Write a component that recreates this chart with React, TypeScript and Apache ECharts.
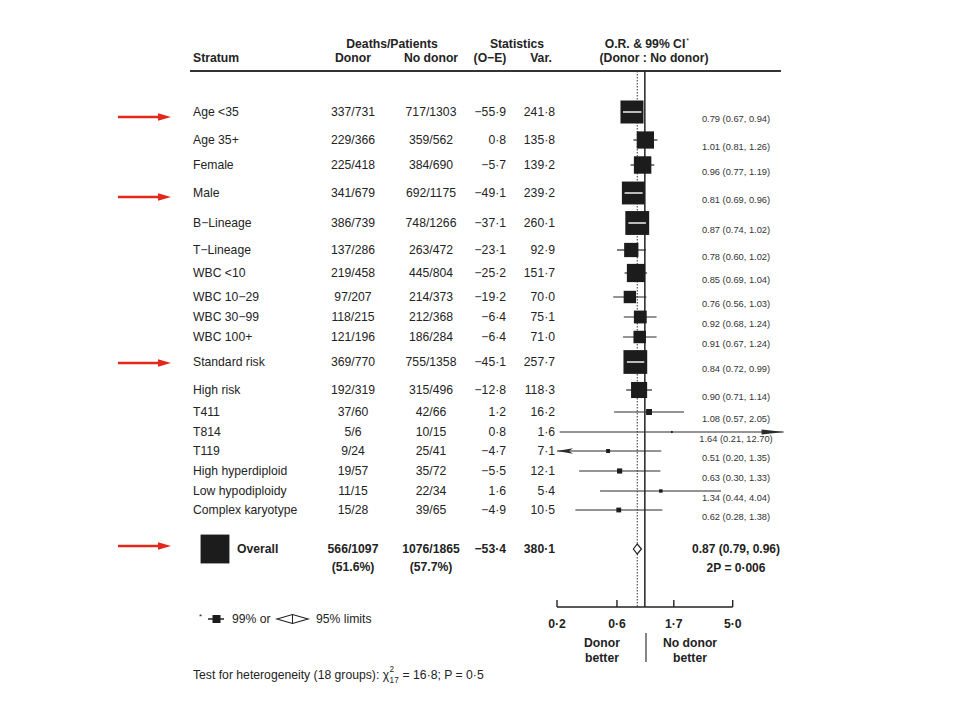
import { useEffect, useRef } from "react";
import * as echarts from "echarts";

// ---------------- data ----------------
const strata = [
  "Age <35", "Age 35+", "Female", "Male", "B\u2212Lineage", "T\u2212Lineage",
  "WBC <10", "WBC 10\u221229", "WBC 30\u221299", "WBC 100+", "Standard risk", "High risk",
  "T411", "T814", "T119", "High hyperdiploid", "Low hypodiploidy", "Complex karyotype",
];
const donorDeaths = ["337/731", "229/366", "225/418", "341/679", "386/739", "137/286", "219/458", "97/207", "118/215", "121/196", "369/770", "192/319", "37/60", "5/6", "9/24", "19/57", "11/15", "15/28"];
const noDonorDeaths = ["717/1303", "359/562", "384/690", "692/1175", "748/1266", "263/472", "445/804", "214/373", "212/368", "186/284", "755/1358", "315/496", "42/66", "10/15", "25/41", "35/72", "22/34", "39/65"];
const oMinusE = [-55.9, 0.8, -5.7, -49.1, -37.1, -23.1, -25.2, -19.2, -6.4, -6.4, -45.1, -12.8, 1.2, 0.8, -4.7, -5.5, 1.6, -4.9];
const variance = [241.8, 135.8, 139.2, 239.2, 260.1, 92.9, 151.7, 70.0, 75.1, 71.0, 257.7, 118.3, 16.2, 1.6, 7.1, 12.1, 5.4, 10.5];
const oddsRatio = [0.79, 1.01, 0.96, 0.81, 0.87, 0.78, 0.85, 0.76, 0.92, 0.91, 0.84, 0.90, 1.08, 1.64, 0.51, 0.63, 1.34, 0.62];
const ciLow = [0.67, 0.81, 0.77, 0.69, 0.74, 0.60, 0.69, 0.56, 0.68, 0.67, 0.72, 0.71, 0.57, 0.21, 0.20, 0.30, 0.44, 0.28];
const ciHigh = [0.94, 1.26, 1.19, 0.96, 1.02, 1.02, 1.04, 1.03, 1.24, 1.24, 0.99, 1.14, 2.05, 12.70, 1.35, 1.33, 4.04, 1.38];

const overallDonor = ["566/1097", "(51.6%)"];
const overallNoDonor = ["1076/1865", "(57.7%)"];
const overallOE = -53.4;
const overallVar = 380.1;
const overallOR = 0.87;
const overallCI99 = [0.79, 0.96];
const overallCI95 = [0.81, 0.94];
const overallP = "2P = 0\u00b7006";

const tickValues = [0.2, 0.6, 1.7, 5.0];
const tickLabels = ["0\u00b72", "0\u00b76", "1\u00b77", "5\u00b70"];
const axisRange = [0.2, 5.0];

// ---------------- layout ----------------
// vertical slot of each row, in y-axis units (grid spans 0..536)
const rowSlot = [41, 69, 94, 122, 152, 179, 202, 226, 246, 266, 291, 319, 341, 361, 380, 400, 420, 439];
const overallSlot = 478;
const Y_MAX = 536;

const FONT = "'Liberation Sans', Arial, Helvetica, sans-serif";
const INK = "#232323";
const RED = "#e2281b";
const FS = 12.2;

const COL = { stratum: 193, donor: 353, noDonor: 431, oe: 506, vr: 555, orText: 736 };

const fmt = (v: number) => (v < 0 ? "\u2212" : "") + Math.abs(v).toFixed(1).replace(".", "\u00b7");
const fmtCI = (o: number, l: number, h: number) => `${o.toFixed(2)} (${l.toFixed(2)}, ${h.toFixed(2)})`;

function measure(text: string, size: number, weight = "normal") {
  const c = document.createElement("canvas").getContext("2d");
  if (!c) return text.length * size * 0.55;
  c.font = `${weight} ${size}px ${FONT}`;
  return c.measureText(text).width;
}

function txt(text: string, x: number, y: number, align: string, size = FS, weight = "normal", fill = INK): any {
  return {
    type: "text",
    x,
    y,
    silent: true,
    style: {
      text,
      fill,
      fontSize: size,
      fontFamily: FONT,
      fontWeight: weight,
      textAlign: align,
      align,
      textVerticalAlign: "middle",
      verticalAlign: "middle",
    },
  };
}

const sqSize = (v: number) => 1.48 * Math.sqrt(v);

export default function App() {
  const ref = useRef<HTMLDivElement>(null);

  useEffect(() => {
    if (!ref.current) return;
    const chart = echarts.init(ref.current, undefined, { renderer: "svg" });

    const tableSeries = {
      type: "custom",
      clip: false,
      silent: true,
      data: strata.map((_, i) => [0, rowSlot[i]]),
      renderItem: (params: any, api: any) => {
        const i = params.dataIndex;
        const y = api.coord([0, api.value(1)])[1];
        return {
          type: "group",
          children: [
            txt(strata[i], COL.stratum, y, "left"),
            txt(donorDeaths[i], COL.donor, y, "center"),
            txt(noDonorDeaths[i], COL.noDonor, y, "center"),
            txt(fmt(oMinusE[i]), COL.oe, y, "right"),
            txt(fmt(variance[i]), COL.vr, y, "right"),
            txt(fmtCI(oddsRatio[i], ciLow[i], ciHigh[i]), COL.orText, y + 6.5, "center", 9.3, "normal", "#333"),
          ],
        };
      },
    };

    const forestSeries = {
      type: "custom",
      clip: false,
      silent: true,
      data: strata.map((_, i) => [Math.log(oddsRatio[i]), rowSlot[i], Math.log(ciLow[i]), Math.log(ciHigh[i]), variance[i]]),
      renderItem: (params: any, api: any) => {
        const i = params.dataIndex;
        const [xc, y] = api.coord([api.value(0), api.value(1)]);
        const xl = api.coord([api.value(2), 0])[0];
        const xh = api.coord([api.value(3), 0])[0];
        const s = sqSize(api.value(4));
        const children: any[] = [
          { type: "line", shape: { x1: xl, y1: y, x2: xh, y2: y }, style: { stroke: "#2b2b2b", lineWidth: 1.2 } },
        ];
        if (ciHigh[i] > axisRange[1]) {
          children.push({ type: "polygon", shape: { points: [[xh, y], [xh - 22, y - 2.6], [xh - 22, y + 2.6]] }, style: { fill: "#2b2b2b" } });
        }
        if (ciLow[i] <= axisRange[0]) {
          children.push({ type: "polygon", shape: { points: [[xl, y], [xl + 16, y - 2.8], [xl + 12, y], [xl + 16, y + 2.8]] }, style: { fill: "#2b2b2b" } });
        }
        children.push({ type: "rect", shape: { x: xc - s / 2, y: y - s / 2, width: s, height: s }, style: { fill: "#1c1c1c" } });
        if (xl >= xc - s / 2 && xh <= xc + s / 2) {
          children.push({ type: "line", shape: { x1: xl, y1: y, x2: xh, y2: y }, style: { stroke: "#ffffff", lineWidth: 1.4 } });
        }
        return { type: "group", children };
      },
    };

    const refSeries = {
      type: "custom",
      clip: false,
      silent: true,
      data: [[0, 0]],
      renderItem: (_p: any, api: any) => {
        const [x1, yTop] = api.coord([0, 0]);
        const yBot = api.coord([0, Y_MAX])[1];
        const xo = api.coord([Math.log(overallOR), 0])[0];
        return {
          type: "group",
          children: [
            { type: "line", shape: { x1: xo, y1: yTop, x2: xo, y2: yBot }, style: { stroke: "#333", lineWidth: 1, lineDash: [1.5, 1.5] } },
            { type: "line", shape: { x1, y1: yTop, x2: x1, y2: yBot }, style: { stroke: "#222", lineWidth: 1.5 } },
          ],
        };
      },
    };

    const overallSeries = {
      type: "custom",
      clip: false,
      silent: true,
      data: [[Math.log(overallOR), overallSlot, Math.log(overallCI95[0]), Math.log(overallCI95[1])]],
      renderItem: (_p: any, api: any) => {
        const [xc, y] = api.coord([api.value(0), api.value(1)]);
        const xl = api.coord([api.value(2), 0])[0];
        const xh = api.coord([api.value(3), 0])[0];
        const s = sqSize(overallVar);
        return {
          type: "group",
          children: [
            { type: "polygon", shape: { points: [[xl, y], [xc, y - 5], [xh, y], [xc, y + 5]] }, style: { fill: "#fff", stroke: "#222", lineWidth: 1.2 } },
            { type: "rect", shape: { x: 215 - s / 2, y: y - s / 2, width: s, height: s }, style: { fill: "#1c1c1c" } },
            txt("Overall", 237, y, "left", FS, "bold"),
            txt(overallDonor[0], COL.donor, y, "center", FS, "bold"),
            txt(overallDonor[1], COL.donor, y + 18, "center", FS, "bold"),
            txt(overallNoDonor[0], COL.noDonor, y, "center", FS, "bold"),
            txt(overallNoDonor[1], COL.noDonor, y + 18, "center", FS, "bold"),
            txt(fmt(overallOE), COL.oe, y, "right", FS, "bold"),
            txt(fmt(overallVar), COL.vr, y, "right", FS, "bold"),
            txt(fmtCI(overallOR, overallCI99[0], overallCI99[1]), COL.orText, y, "center", 12, "bold"),
            txt(overallP, COL.orText, y + 19, "center", 12, "bold"),
          ],
        };
      },
    };

    const axisSeries = {
      type: "custom",
      clip: false,
      silent: true,
      data: tickValues.map((v) => [Math.log(v), Y_MAX]),
      renderItem: (params: any, api: any) => {
        const i = params.dataIndex;
        const [x, y] = api.coord([api.value(0), api.value(1)]);
        const children: any[] = [
          { type: "line", shape: { x1: x, y1: y - 7, x2: x, y2: y }, style: { stroke: "#222", lineWidth: 1.4 } },
          txt(tickLabels[i], x, y + 17, "center", FS, "bold"),
        ];
        if (i === 0) {
          const xe = api.coord([Math.log(axisRange[1]), Y_MAX])[0];
          const xs = api.coord([Math.log(axisRange[0]), Y_MAX])[0];
          children.push({ type: "line", shape: { x1: xs, y1: y, x2: xe, y2: y }, style: { stroke: "#222", lineWidth: 1.4 } });
        }
        return { type: "group", children };
      },
    };

    // header & footnotes
    const orHead = "O.R. & 99% CI";
    const orW = measure(orHead, FS, "bold");
    const orX = 647 - orW / 2 - 2;

    const chiA = "Test for heterogeneity (18 groups): \u03c7";
    const chiAW = measure(chiA, FS);
    const chiSubW = measure("17", 8.2);
    const chiX = 193;

    const redArrow = (y: number) => [
      { type: "line", shape: { x1: 118, y1: y, x2: 162, y2: y }, style: { stroke: RED, lineWidth: 2.4 } },
      { type: "polygon", shape: { points: [[158, y - 3.8], [171, y], [158, y + 3.8]] }, style: { fill: RED } },
    ];

    const graphics: any[] = [
      txt("Stratum", 193, 58, "left", FS, "bold"),
      txt("Deaths/Patients", 392, 44, "center", FS, "bold"),
      txt("Donor", COL.donor, 58, "center", FS, "bold"),
      txt("No donor", COL.noDonor, 58, "center", FS, "bold"),
      txt("Statistics", 517, 44, "center", FS, "bold"),
      txt("(O\u2212E)", 490, 58, "center", FS, "bold"),
      txt("Var.", 541, 58, "center", FS, "bold"),
      txt(orHead, orX, 44, "left", FS, "bold"),
      txt("*", orX + orW + 1, 40, "left", 7, "normal"),
      txt("(Donor : No donor)", 654, 58, "center", FS, "bold"),
      { type: "line", shape: { x1: 190, y1: 71, x2: 781, y2: 71 }, style: { stroke: "#333", lineWidth: 2 } },
      // direction labels
      txt("Donor", 602, 643, "center", FS, "bold"),
      txt("better", 602, 658, "center", FS, "bold"),
      txt("No donor", 690, 643, "center", FS, "bold"),
      txt("better", 690, 658, "center", FS, "bold"),
      { type: "line", shape: { x1: 646, y1: 633, x2: 646, y2: 662 }, style: { stroke: "#333", lineWidth: 1.2 } },
      // legend
      txt("*", 199, 616, "left", 8),
      { type: "line", shape: { x1: 208, y1: 619, x2: 224, y2: 619 }, style: { stroke: "#222", lineWidth: 1.5 } },
      { type: "rect", shape: { x: 212.5, y: 615, width: 8, height: 8 }, style: { fill: "#1c1c1c" } },
      txt("99% or", 232, 619, "left", FS),
      { type: "polygon", shape: { points: [[277, 619], [292.5, 614.5], [308, 619], [292.5, 623.5]] }, style: { fill: "#fff", stroke: "#222", lineWidth: 1.2 } },
      { type: "line", shape: { x1: 292.5, y1: 614.5, x2: 292.5, y2: 623.5 }, style: { stroke: "#222", lineWidth: 1 } },
      txt("95% limits", 316, 619, "left", FS),
      // heterogeneity test
      txt(chiA, chiX, 675, "left", FS),
      txt("2", chiX + chiAW + 0.5, 669, "left", 8.2),
      txt("17", chiX + chiAW + 0.5, 680, "left", 8.2),
      txt(" = 16\u00b78; P = 0\u00b75", chiX + chiAW + chiSubW + 1, 675, "left", FS),
      ...redArrow(117),
      ...redArrow(197),
      ...redArrow(363),
      ...redArrow(546),
    ];

    chart.setOption({
      animation: false,
      backgroundColor: "#ffffff",
      grid: { left: 557, top: 71, width: 227, height: Y_MAX },
      xAxis: { type: "value", min: Math.log(0.2), max: Math.log(12.8), show: false },
      yAxis: { type: "value", min: 0, max: Y_MAX, inverse: true, show: false },
      series: [refSeries, forestSeries, tableSeries, overallSeries, axisSeries],
      graphic: { elements: graphics },
    });

    return () => chart.dispose();
  }, []);

  return <div ref={ref} style={{ position: "fixed", left: 0, top: 0, width: 960, height: 720, background: "#fff" }} />;
}
